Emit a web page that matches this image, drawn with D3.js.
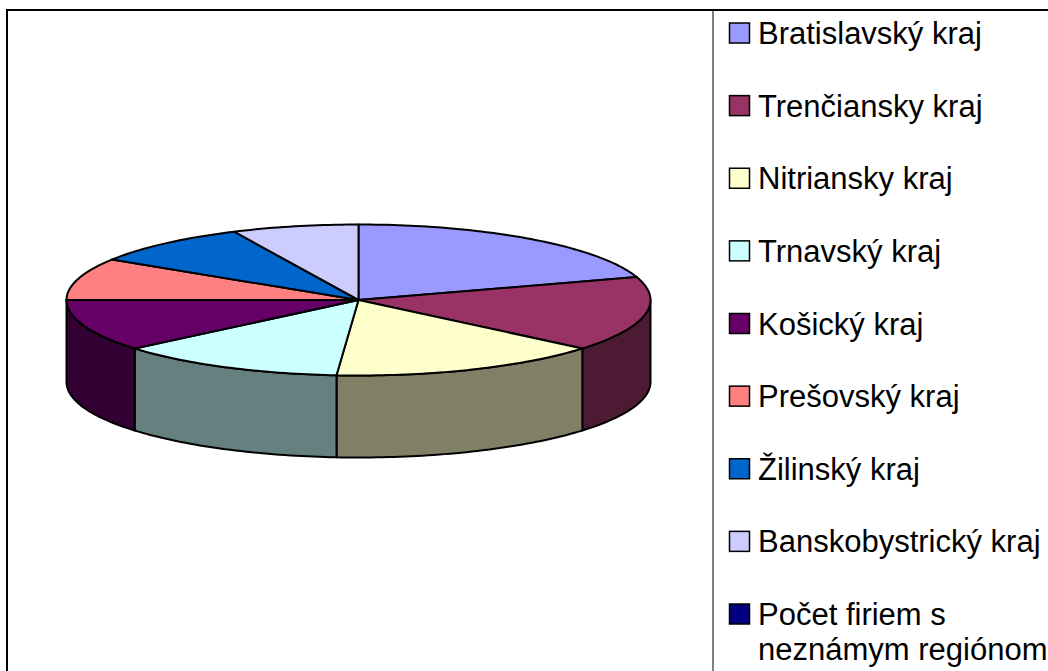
<!doctype html>
<html>
<head>
    <meta charset="utf-8">
    <style>
        body { margin: 0; background: #fff; }
        text { font-family: "Liberation Sans", Arial, sans-serif; }
    </style>
    <script src="https://d3js.org/d3.v7.min.js"></script>
</head>
<body>
    <svg width="1048" height="671"></svg>
    <script>
        // data
        var regions = ["Bratislavský kraj", "Trenčiansky kraj", "Nitriansky kraj", "Trnavský kraj",
                       "Košický kraj", "Prešovský kraj", "Žilinský kraj", "Banskobystrický kraj",
                       "Počet firiem s neznámym regiónom"];
        var firms = [201, 160, 151, 127, 111, 90, 90, 70, 0];
        var colors = ["#9999ff", "#993366", "#ffffcc", "#ccffff", "#660066",
                      "#ff8080", "#0066cc", "#ccccff", "#000080"];

        var svg = d3.select("svg");

        // frame + legend divider
        svg.append("rect")
           .attr("x", 7).attr("y", 10)
           .attr("width", 1100).attr("height", 700)
           .attr("fill", "none")
           .attr("stroke", "#000")
           .attr("stroke-width", 2);

        svg.append("line")
           .attr("x1", 713).attr("x2", 713)
           .attr("y1", 11).attr("y2", 671)
           .attr("stroke", "#808080")
           .attr("stroke-width", 2);

        // 3d pie geometry
        var cx = 358.5, cy = 300, rx = 292, ry = 75.5, depth = 82;

        function pt(a, dz) {
            return [cx + rx * Math.sin(a), cy - ry * Math.cos(a) + (dz || 0)];
        }
        function arcPts(a0, a1, dz) {
            var n = Math.max(2, Math.ceil(Math.abs(a1 - a0) / 0.02));
            return d3.range(n + 1).map(function(i) { return pt(a0 + (a1 - a0) * i / n, dz); });
        }

        var pie = d3.pie().sort(null).value(function(d) { return d; })
                    .startAngle(0).endAngle(2 * Math.PI);
        var arcs = pie(firms).map(function(d, i) { d.color = colors[i]; return d; })
                             .filter(function(d) { return d.endAngle > d.startAngle; });

        var line = d3.line().curve(d3.curveLinearClosed);
        var g = svg.append("g");

        // sides (front half only)
        var sides = [];
        arcs.forEach(function(d) {
            var s = Math.max(d.startAngle, Math.PI / 2),
                e = Math.min(d.endAngle, 3 * Math.PI / 2);
            if (e > s) sides.push({s: s, e: e, color: d.color});
        });

        g.selectAll(".side")
         .data(sides)
         .enter().append("path")
         .attr("class", "side")
         .attr("d", function(d) {
             return line(arcPts(d.s, d.e, 0).concat(arcPts(d.e, d.s, depth)));
         })
         .attr("fill", function(d) { return d3.color(d.color).darker(1.0).formatHex(); })
         .attr("fill", function(d) {
             var c = d3.rgb(d.color);
             return d3.rgb(c.r / 2, c.g / 2, c.b / 2).formatHex();
         })
         .attr("stroke", "#000")
         .attr("stroke-width", 2)
         .attr("stroke-linejoin", "round");

        // top faces
        g.selectAll(".top")
         .data(arcs)
         .enter().append("path")
         .attr("class", "top")
         .attr("d", function(d) {
             return line([[cx, cy]].concat(arcPts(d.startAngle, d.endAngle, 0)));
         })
         .attr("fill", function(d) { return d.color; })
         .attr("stroke", "#000")
         .attr("stroke-width", 2)
         .attr("stroke-linejoin", "round");

        // legend
        var y = d3.scaleLinear().domain([0, 8]).range([33, 614]);
        var leg = svg.selectAll(".leg")
                     .data(regions)
                     .enter().append("g")
                     .attr("class", "leg")
                     .attr("transform", function(d, i) { return "translate(0," + y(i) + ")"; });

        leg.append("rect")
           .attr("x", 729.5).attr("y", -10)
           .attr("width", 20).attr("height", 20)
           .attr("fill", function(d, i) { return colors[i]; })
           .attr("stroke", "#000")
           .attr("stroke-width", 1.5);

        leg.append("text")
           .attr("x", 758)
           .attr("y", 11)
           .attr("font-size", "31px")
           .attr("fill", "#000")
           .each(function(d) {
               var t = d3.select(this);
               var parts = d === regions[8] ? ["Počet firiem s", "neznámym regiónom"] : [d];
               parts.forEach(function(p, k) {
                   t.append("tspan").attr("x", 758).attr("dy", k ? 35 : 0).text(p);
               });
           });
</script>
</body>
</html>
